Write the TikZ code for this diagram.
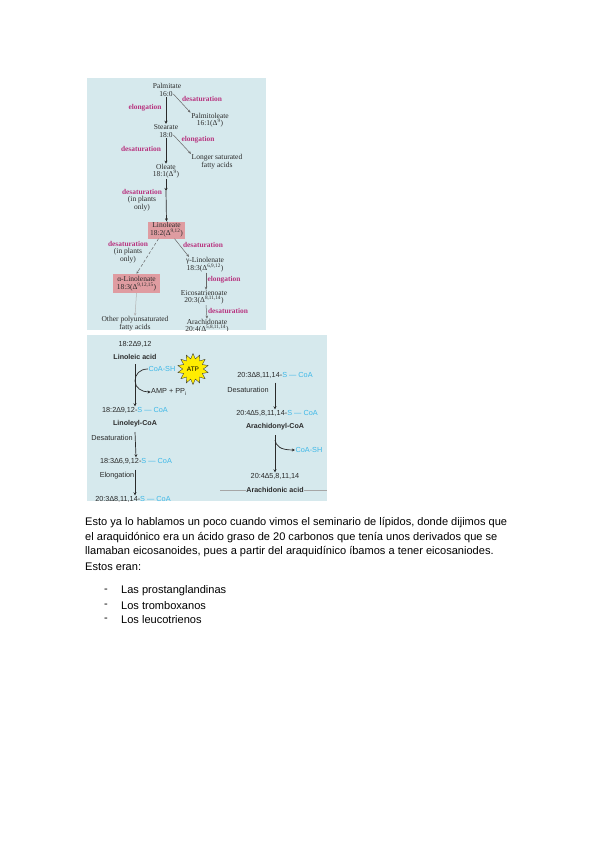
\documentclass[tikz,border=0pt]{standalone}
\usepackage{fontspec}
\setmainfont{Liberation Sans}
\newfontfamily\serifo{Liberation Serif}
\usetikzlibrary{shapes.geometric,arrows.meta}
\definecolor{panelc}{HTML}{D6E9ED}
\definecolor{boxc}{HTML}{DF9CA1}
\definecolor{magc}{HTML}{B8337F}
\definecolor{cyanc}{HTML}{3DB8E8}
\definecolor{inkc}{HTML}{2A2A2A}
\newcommand{\cy}[1]{\textcolor{cyanc}{#1}}
\newcommand{\sq}[1]{\smash{\textsuperscript{#1}}}
\tikzset{
  x=1pt,y=-1pt,
  panel/.style={fill=panelc,draw=none},
  ser/.style={inner sep=0.5pt,font=\serifo\fontsize{7.5}{8}\selectfont,text=inkc,align=center},
  enz/.style={inner sep=0.5pt,font=\serifo\bfseries\fontsize{7.4}{8}\selectfont,text=magc},
  hl/.style={ser,fill=boxc,inner sep=0pt,minimum height=17pt},
  san/.style={inner sep=0.5pt,font=\fontsize{7.3}{8}\selectfont,text=inkc,align=center},
  sanb/.style={san,font=\bfseries\fontsize{7.1}{8}\selectfont},
  body/.style={anchor=west,inner sep=0pt,font=\fontsize{11.05}{12}\selectfont,text=black},
  arr/.style={draw=inkc,line width=0.7pt,-{Stealth[length=3pt,width=3pt]}},
  arrs/.style={draw=gray!80!black,line width=0.5pt,-{Stealth[length=3pt,width=2.5pt]}},
}
\begin{document}
\begin{tikzpicture}
\useasboundingbox (0,0) rectangle (600,848);
\fill[white] (0,0) rectangle (600,848);
\fill[panel] (87,78) rectangle (266,330);
\fill[panel] (87,335) rectangle (327,501);
\begin{scope}
\clip (87,78) rectangle (266,330);
\node[ser] (palm) at (167,86) {Palmitate};
\node[ser] (c160) at (166,94) {16:0};
\node[enz] (d1) at (202,99) {desaturation};
\node[enz] (e1) at (145,108) {elongation};
\node[ser] (palmo) at (210,116) {Palmitoleate};
\node[ser] (c161) at (210,124) {16:1(Δ\sq{9})};
\node[ser] (stea) at (166,127) {Stearate};
\node[ser] (c180) at (166,135) {18:0};
\node[enz] (e2) at (198,140) {elongation};
\node[enz] (d2) at (141,149) {desaturation};
\node[ser] (longer) at (217,158) {Longer saturated};
\node[ser] (fa1) at (217,166) {fatty acids};
\node[ser] (olea) at (166,167) {Oleate};
\node[ser] (c181) at (166,175) {18:1(Δ\sq{9})};
\node[enz] (d3) at (142,192) {desaturation};
\coordinate (mid) at (166,191);
\node[ser] (plants1) at (142,200) {(in plants};
\node[ser] (only1) at (142,208) {only)};
\node[hl,minimum width=37pt] (lino) at (166.5,230) {Linoleate\\18:2(Δ\sq{9,12})};
\node[enz] (d4) at (128,244) {desaturation};
\node[ser] (plants2) at (128,252) {(in plants};
\node[ser] (only2) at (128,260) {only)};
\node[enz] (d5) at (203,245) {desaturation};
\node[ser] (glin) at (205,261) {γ-Linolenate};
\node[ser] (c183g) at (205,268.5) {18:3(Δ\sq{6,9,12})};
\node[enz] (e3) at (224,280) {elongation};
\node[hl,minimum width=47pt,minimum height=19pt] (alin) at (136.5,283.5) {α-Linolenate\\18:3(Δ\sq{9,12,15})};
\node[ser] (eico) at (204,293) {Eicosatrienoate};
\node[ser] (c203) at (204,301) {20:3(Δ\sq{8,11,14})};
\node[enz] (d6) at (228,311) {desaturation};
\node[ser] (other) at (135,320) {Other polyunsaturated};
\node[ser] (fa2) at (135,328) {fatty acids};
\node[ser] (arach) at (207,322) {Arachidonate};
\node[ser] (c204) at (207,330) {20:4(Δ\sq{5,8,11,14})};
\draw[arr] (c160.south) -- (stea.north);
\draw[arrs] (c160.east) -- (palmo.north west);
\draw[arr] (c180.south) -- (olea.north);
\draw[arrs] (c180.east) -- (longer.north west);
\draw[arr] (c181.south) -- (mid);
\draw[arr] (mid) -- (lino.north);
\draw[arrs,densely dashed] (lino.south) ++(-8,0) -- (alin.north);
\draw[arrs] ([xshift=8pt]lino.south) -- ([xshift=-16pt]glin.north);
\draw[arrs,gray!60] (alin.south) -- (other.north);
\draw[arrs] ([xshift=1pt]c183g.south) -- ([xshift=2pt]eico.north);
\draw[arrs] ([xshift=2pt]c203.south) -- (arach.north);
\end{scope}
\begin{scope}
\clip (87,335) rectangle (327,501);
\node[san] (a182) at (135,344) {18:2∆9,12};
\node[sanb] (lacid) at (135,357) {Linoleic acid};
\node[san,text=cyanc] (coa1) at (162,369) {CoA-SH};
\node[star,star points=14,star point ratio=1.5,minimum size=31pt,inner sep=0pt,fill=yellow!95!orange,draw=black!80,line width=0.35pt,font=\fontsize{6.5}{7}\selectfont] (atp) at (193,369) {ATP};
\node[san] (amp) at (169,392) {AMP + PP\textsubscript{i}};
\node[san] (a182s) at (135,410) {18:2∆9,12-\cy{S — CoA}};
\node[sanb] (lcoa) at (135,424) {Linoleyl-CoA};
\node[san] (des1) at (112,438) {Desaturation};
\node[san] (a183s) at (136,461) {18:3∆6,9,12-\cy{S — CoA}};
\node[san] (elo) at (117,476) {Elongation};
\node[san] (a203s) at (133,499) {20:3∆8,11,14-\cy{S — CoA}};
\node[san] (b203s) at (275,375) {20:3∆8,11,14-\cy{S — CoA}};
\node[san] (des2) at (248,390) {Desaturation};
\node[san] (b204s) at (277,413) {20:4∆5,8,11,14-\cy{S — CoA}};
\node[sanb] (acoa) at (275,427) {Arachidonyl-CoA};
\node[san,text=cyanc] (coa2) at (309,450) {CoA-SH};
\node[san] (b204) at (275,476) {20:4∆5,8,11,14};
\node[sanb] (aacid) at (275,490) {Arachidonic acid};
\coordinate (rul) at (220,490);
\coordinate (rur) at (327,490);
\coordinate (bendl) at (135,381);
\coordinate (bendr) at (275,440);
\draw[gray!70,line width=0.5pt] (rul) -- (aacid.west) (aacid.east) -- (rur);
\draw[arr] (lacid.south) ++(0,4) -- (a182s.north);
\draw[arr,-] (coa1.west) .. controls (140,369) and (135,374) .. (bendl);
\draw[arr] (bendl) .. controls (135,388) and (142,392) .. (amp.west);
\draw[arr] (lcoa.south) ++(0,4) -- (a183s.north);
\draw[arr] (a183s.south) ++(-1,5) -- ([xshift=2pt]a203s.north);
\draw[arr] (b203s.south) ++(0,4) -- ([xshift=-2pt]b204s.north);
\draw[arr] (acoa.south) ++(0,4) -- (b204.north);
\draw[arr] (bendr) .. controls (276,446) and (280,450) .. (coa2.west);
\end{scope}
\node[body] (t1) at (85,523) {Esto ya lo hablamos un poco cuando vimos el seminario de lípidos, donde dijimos que};
\node[body] (t2) at (85,537.5) {el araquidónico era un ácido graso de 20 carbonos que tenía unos derivados que se};
\node[body] (t3) at (85,552) {llamaban eicosanoides, pues a partir del araquidínico íbamos a tener eicosaniodes.};
\node[body] (t4) at (85,566.5) {Estos eran:};
\node[body] (m1) at (104,591) {-};
\node[body] (l1) at (121,591) {Las prostanglandinas};
\node[body] (m2) at (104,605.5) {-};
\node[body] (l2) at (121,605.5) {Los tromboxanos};
\node[body] (m3) at (104,620) {-};
\node[body] (l3) at (121,620) {Los leucotrienos};
\end{tikzpicture}
\end{document}
